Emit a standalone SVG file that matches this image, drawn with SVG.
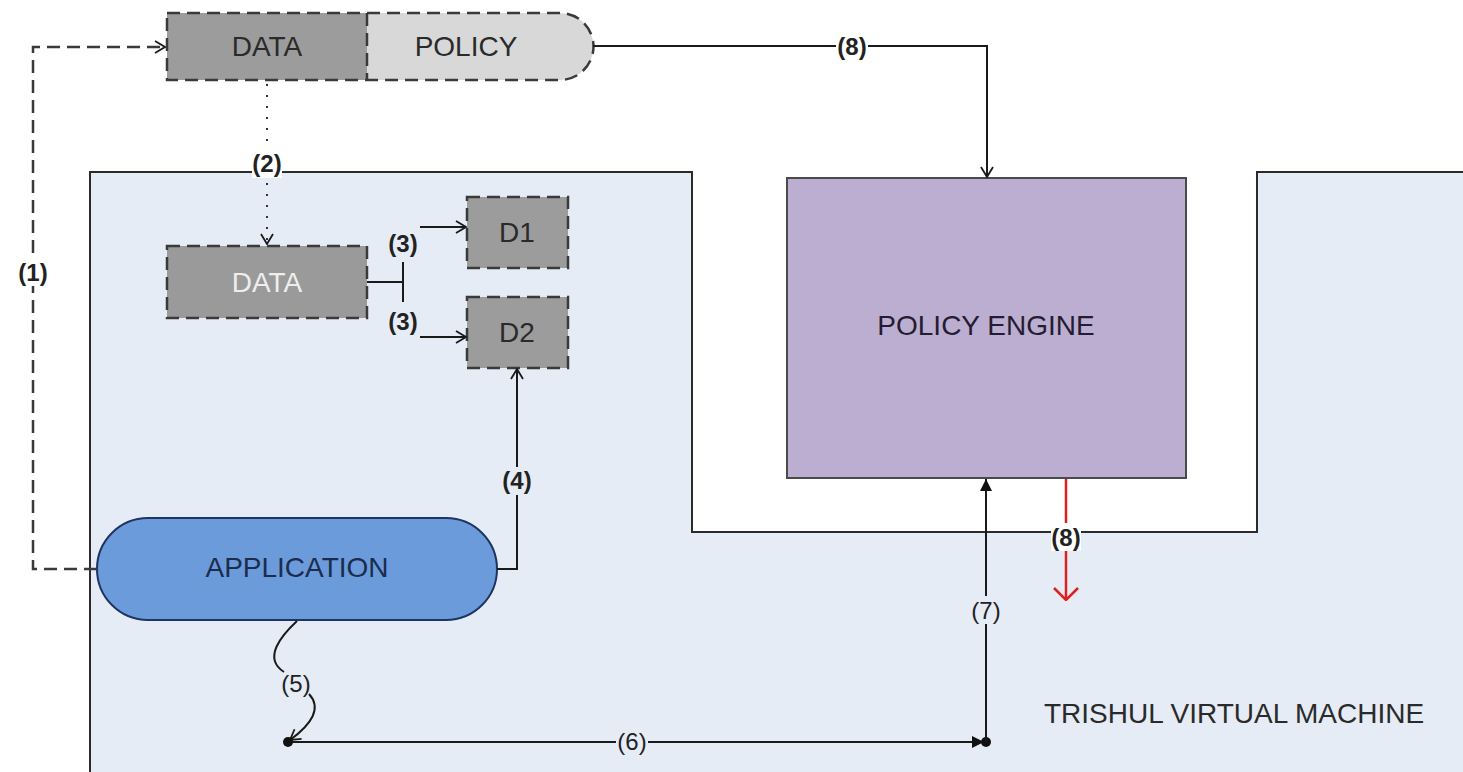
<svg xmlns="http://www.w3.org/2000/svg" width="1463" height="772" viewBox="0 0 1463 772">
  <style>
    .lbl { font-family: "Liberation Sans", Arial, sans-serif; font-size: 24px; fill: #222; text-anchor: middle; dominant-baseline: central; }
    .b { font-weight: bold; }
    .name { font-family: "Liberation Sans", Arial, sans-serif; font-size: 28px; text-anchor: middle; dominant-baseline: central; }
    .dashbox { stroke: #3a3a3a; stroke-width: 2.5; stroke-dasharray: 13 7; }
    .wire { fill: none; stroke: #1a1a1a; stroke-width: 2; }
  </style>
  <defs>
    <marker id="open" viewBox="0 0 12 14" refX="11" refY="7" markerWidth="12" markerHeight="14" markerUnits="userSpaceOnUse" orient="auto">
      <path d="M1,1 L11,7 L1,13" fill="none" stroke="#1a1a1a" stroke-width="1.8"/>
    </marker>
    <marker id="openRed" viewBox="0 0 14 26" refX="13" refY="13" markerWidth="14" markerHeight="26" markerUnits="userSpaceOnUse" orient="auto">
      <path d="M1,1 L13,13 L1,25" fill="none" stroke="#e0201c" stroke-width="2.5"/>
    </marker>
    <marker id="solid" viewBox="0 0 12 12" refX="12" refY="6" markerWidth="12" markerHeight="12" markerUnits="userSpaceOnUse" orient="auto">
      <path d="M0,0 L12,6 L0,12 Z" fill="#111"/>
    </marker>
    <marker id="dot" viewBox="0 0 12 12" refX="6" refY="6" markerWidth="12" markerHeight="12" markerUnits="userSpaceOnUse">
      <circle cx="6" cy="6" r="5" fill="#111"/>
    </marker>
  </defs>

  <rect width="1463" height="772" fill="#ffffff"/>

  <!-- virtual machine boundary with the notch around the policy engine -->
  <g id="trishul-vm">
    <path d="M90,772 V172 H692 V532 H1257 V172 H1463 V772 Z" fill="#e6ecf6"/>
    <path d="M90,772 V172 H692 V532 H1257 V172 H1463" fill="none" stroke="#2b2b2b" stroke-width="2"/>
    <text class="name" x="1234" y="713" font-size="26" fill="#2a2a2a">TRISHUL VIRTUAL MACHINE</text>
  </g>

  <!-- packaged data + policy -->
  <g id="data-policy">
    <path d="M367,13 H560 A33.5,33.5 0 0 1 560,80 H367 Z" fill="#d8d8d8"/>
    <rect x="167" y="13" width="200" height="67" fill="#9c9c9c"/>
    <path class="dashbox" d="M167,13 H560 A33.5,33.5 0 0 1 560,80 H167 Z" fill="none"/>
    <line class="dashbox" x1="367" y1="13" x2="367" y2="80"/>
    <text class="name" x="267" y="46" fill="#2a2a2a">DATA</text>
    <text class="name" x="466" y="46" fill="#2a2a2a">POLICY</text>
  </g>

  <g id="data-inner">
    <rect class="dashbox" x="167" y="246" width="200" height="72" fill="#9a9a9a"/>
    <text class="name" x="267" y="282" fill="#eeeeee">DATA</text>
  </g>

  <g id="d1">
    <rect class="dashbox" x="467" y="197" width="101" height="71" fill="#9c9c9c"/>
    <text class="name" x="517" y="232" fill="#2a2a2a">D1</text>
  </g>

  <g id="d2">
    <rect class="dashbox" x="467" y="297" width="101" height="71" fill="#9c9c9c"/>
    <text class="name" x="517" y="332" fill="#2a2a2a">D2</text>
  </g>

  <g id="policy-engine">
    <rect x="787" y="178" width="399" height="300" fill="#bcaed0" stroke="#4a4a4a" stroke-width="2"/>
    <text class="name" x="986" y="325" fill="#241c33">POLICY ENGINE</text>
  </g>

  <g id="application">
    <rect x="97" y="518" width="400" height="102" rx="51" ry="51" fill="#6c9bdb" stroke="#1d3560" stroke-width="2"/>
    <text class="name" x="297" y="567" fill="#1b2d4d">APPLICATION</text>
  </g>

  <g id="connectors">
    <!-- (1) application fetches the package -->
    <path d="M97,569 H33 V47 H165" fill="none" stroke="#3a3a3a" stroke-width="2.5" stroke-dasharray="13 7" marker-end="url(#open)"/>
    <rect x="18" y="258" width="30" height="28" fill="#ffffff"/>
    <text class="lbl b" x="33" y="272">(1)</text>

    <!-- (2) data copied into the VM -->
    <line x1="267" y1="84" x2="267" y2="244" stroke="#333" stroke-width="2" stroke-dasharray="2 9" marker-end="url(#open)"/>
    <rect x="252" y="150" width="30" height="28" fill="#ffffff"/>
    <text class="lbl b" x="267" y="163">(2)</text>

    <!-- (3) data split into D1 / D2 -->
    <path class="wire" d="M367,282 H403 M403,262 V302"/>
    <line class="wire" x1="420" y1="227" x2="466" y2="227" marker-end="url(#open)"/>
    <line class="wire" x1="420" y1="337" x2="466" y2="337" marker-end="url(#open)"/>
    <text class="lbl b" x="403" y="243">(3)</text>
    <text class="lbl b" x="403" y="321">(3)</text>

    <!-- (4) application accesses D2 -->
    <path class="wire" d="M497,569 H517 V369" marker-end="url(#open)"/>
    <rect x="502" y="467" width="30" height="28" fill="#e6ecf6"/>
    <text class="lbl b" x="517" y="480">(4)</text>

    <!-- (5) application request -->
    <path class="wire" d="M297,621 C282,635 262,658 284,672"/>
    <path class="wire" d="M309,694 C322,708 312,724 290,740" marker-end="url(#open)"/>
    <text class="lbl" x="296" y="683">(5)</text>

    <!-- (6) request routed to the engine -->
    <line class="wire" x1="288" y1="742" x2="984" y2="742" marker-start="url(#dot)" marker-end="url(#solid)"/>
    <circle cx="986" cy="742" r="5" fill="#111"/>
    <rect x="616" y="728" width="32" height="28" fill="#e6ecf6"/>
    <text class="lbl" x="632" y="741">(6)</text>

    <!-- (7) engine evaluates the request -->
    <line class="wire" x1="986" y1="742" x2="986" y2="479" marker-end="url(#solid)"/>
    <rect x="971" y="596" width="30" height="28" fill="#e6ecf6"/>
    <text class="lbl" x="986" y="610">(7)</text>

    <!-- (8) policy fed into the engine -->
    <path class="wire" d="M593,46 H987 V177" marker-end="url(#open)"/>
    <rect x="836" y="32" width="32" height="28" fill="#ffffff"/>
    <text class="lbl b" x="852" y="46">(8)</text>

    <!-- (8) engine decision -->
    <line x1="1066" y1="479" x2="1066" y2="600" stroke="#e0201c" stroke-width="2.5" marker-end="url(#openRed)"/>
    <rect x="1051" y="523" width="30" height="28" fill="#ffffff"/>
    <text class="lbl b" x="1066" y="537">(8)</text>
  </g>
</svg>
